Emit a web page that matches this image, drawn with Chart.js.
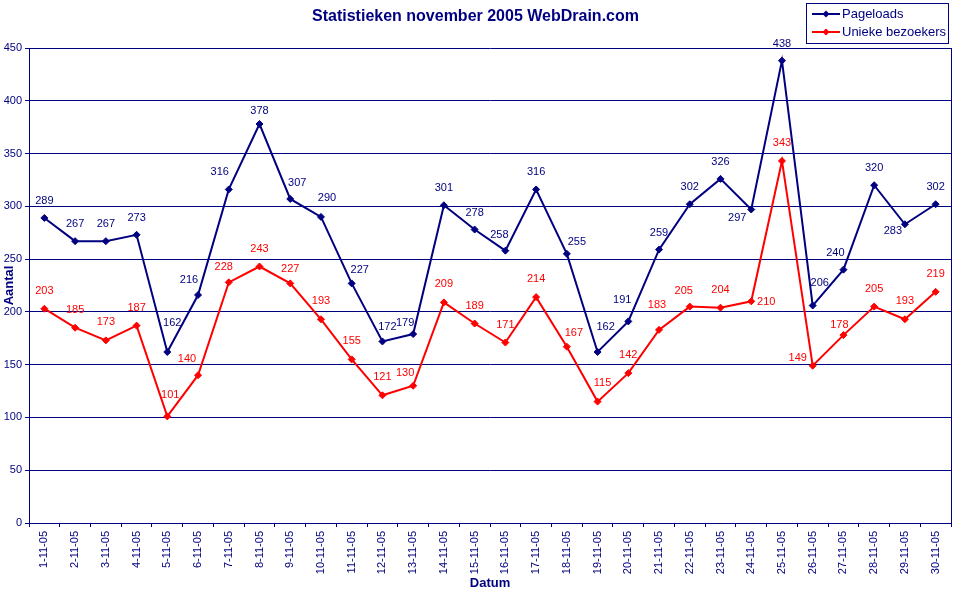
<!DOCTYPE html>
<html lang="nl">
<head>
<meta charset="UTF-8">
<title>Statistieken november 2005</title>
<script src="https://cdn.jsdelivr.net/npm/chart.js"></script>
<style>
  html, body { margin: 0; padding: 0; background: #fff; }
  #wrap { width: 957px; height: 592px; }
</style>
</head>
<body>
<div id="wrap"><canvas id="grafiek" width="957" height="592"></canvas></div>
<script>
// data
const dagen = [];
for (let d = 1; d <= 30; d++) dagen.push(d + '-11-05');

const pageloads = [289, 267, 267, 273, 162, 216, 316, 378, 307, 290,
                   227, 172, 179, 301, 278, 258, 316, 255, 162, 191,
                   259, 302, 326, 297, 438, 206, 240, 320, 283, 302];

const unieke = [203, 185, 173, 187, 101, 140, 228, 243, 227, 193,
                155, 121, 130, 209, 189, 171, 214, 167, 115, 142,
                183, 205, 204, 210, 343, 149, 178, 205, 193, 219];

const yTicks = [0, 50, 100, 150, 200, 250, 300, 350, 400, 450];

const NAVY = '#000080';
const ROOD = '#ff0000';
const FONT = '"Liberation Sans", Arial, sans-serif';

// label placement tweaks (pixels), default is straight above the point
const shiftPage = {4: [5, -29], 5: [-9, -15], 6: [-9, -17], 7: [0, -13], 8: [7, -16],
  9: [6, -19], 10: [8, -13], 11: [5, -14], 12: [-8, -11], 15: [-6, -16], 17: [10, -12],
  18: [8, -25], 19: [-6, -21], 23: [-14, 8], 25: [7, -23], 26: [-8, -17], 28: [-12, 7]};
const shiftUniek = {4: [3, -21], 5: [-11, -16], 6: [-5, -15], 8: [0, -14], 12: [-8, -13],
  17: [7, -14], 18: [5, -19], 20: [-2, -25], 21: [-6, -16], 23: [15, 1], 25: [-15, -8],
  26: [-4, -10]};

const waardeLabels = {
  id: 'waardeLabels',
  afterDatasetsDraw(chart) {
    const ctx = chart.ctx;
    ctx.save();
    ctx.font = '11px ' + FONT;
    ctx.textAlign = 'center';
    ctx.textBaseline = 'middle';
    chart.data.datasets.forEach(function (ds, i) {
      const meta = chart.getDatasetMeta(i);
      const shifts = i === 0 ? shiftPage : shiftUniek;
      const def = i === 0 ? [0, -17] : [0, -18];
      ctx.fillStyle = ds.borderColor;
      meta.data.forEach(function (pt, j) {
        const s = shifts[j] || def;
        ctx.fillText(String(ds.data[j]), pt.x + s[0], pt.y + s[1]);
      });
    });
    ctx.restore();
  }
};

const kader = {
  id: 'kader',
  afterDraw(chart) {
    const ctx = chart.ctx;
    const a = chart.chartArea;
    ctx.save();
    ctx.strokeStyle = NAVY;
    ctx.lineWidth = 1;
    ctx.beginPath();
    ctx.moveTo(Math.round(a.right) + 0.5, a.top);
    ctx.lineTo(Math.round(a.right) + 0.5, a.bottom);
    ctx.stroke();

    // legend box
    const bx = 806.5, by = 3.5, bw = 142, bh = 40;
    ctx.fillStyle = '#fff';
    ctx.fillRect(bx, by, bw, bh);
    ctx.strokeRect(bx, by, bw, bh);
    ctx.font = '13px ' + FONT;
    ctx.textAlign = 'left';
    ctx.textBaseline = 'middle';
    chart.data.datasets.forEach(function (ds, i) {
      const y = 14 + i * 18;
      ctx.strokeStyle = ds.borderColor;
      ctx.fillStyle = ds.borderColor;
      ctx.lineWidth = 2;
      ctx.beginPath();
      ctx.moveTo(812, y);
      ctx.lineTo(840, y);
      ctx.stroke();
      ctx.beginPath();
      ctx.moveTo(826, y - 3.5);
      ctx.lineTo(829.5, y);
      ctx.lineTo(826, y + 3.5);
      ctx.lineTo(822.5, y);
      ctx.closePath();
      ctx.fill();
      ctx.fillStyle = NAVY;
      ctx.fillText(ds.label, 842, y);
    });
    ctx.restore();
  }
};

const ctx = document.getElementById('grafiek');

const grafiek = new Chart(ctx, {
  type: 'line',
  data: {
    labels: dagen,
    datasets: [{
      label: 'Pageloads',
      data: pageloads,
      borderColor: NAVY,
      backgroundColor: NAVY,
      borderWidth: 2,
      pointStyle: 'rectRot',
      pointRadius: 3.5,
      pointBorderWidth: 1,
      tension: 0
    }, {
      label: 'Unieke bezoekers',
      data: unieke,
      borderColor: ROOD,
      backgroundColor: ROOD,
      borderWidth: 2,
      pointStyle: 'rectRot',
      pointRadius: 3.5,
      pointBorderWidth: 1,
      tension: 0
    }]
  },
  options: {
    responsive: false,
    animation: false,
    layout: { padding: { left: 0, right: 6, top: 0, bottom: 0 } },
    plugins: {
      legend: { display: false },
      tooltip: { enabled: false },
      title: {
        display: true,
        text: 'Statistieken november 2005 WebDrain.com',
        color: NAVY,
        font: { family: FONT, size: 16, weight: 'bold', lineHeight: 1.2 },
        padding: { top: 7.4, bottom: 21.4 }
      }
    },
    scales: {
      y: {
        min: 0,
        max: 450,
        afterBuildTicks: function (scale) {
          scale.ticks = yTicks.map(function (v) { return { value: v }; });
        },
        afterFit: function (scale) { scale.width = 29; },
        border: { color: NAVY, width: 1 },
        grid: { color: NAVY, lineWidth: 1, tickLength: 4, drawTicks: true },
        ticks: { color: NAVY, padding: 3, font: { family: FONT, size: 11 } },
        title: {
          display: true,
          text: 'Aantal',
          color: NAVY,
          font: { family: FONT, size: 13, weight: 'bold' },
          padding: { top: 2, bottom: 2 }
        }
      },
      x: {
        offset: true,
        afterFit: function (scale) { scale.height = 69; },
        border: { color: NAVY, width: 1 },
        grid: { drawOnChartArea: false, drawTicks: true, tickLength: 4, offset: true, color: NAVY },
        ticks: {
          color: NAVY,
          autoSkip: false,
          minRotation: 90,
          maxRotation: 90,
          padding: 4,
          font: { family: FONT, size: 11 }
        },
        title: {
          display: true,
          text: 'Datum',
          color: NAVY,
          font: { family: FONT, size: 13, weight: 'bold' },
          padding: { top: 2, bottom: 1 }
        }
      }
    }
  },
  plugins: [waardeLabels, kader]
});
</script>
</body>
</html>
